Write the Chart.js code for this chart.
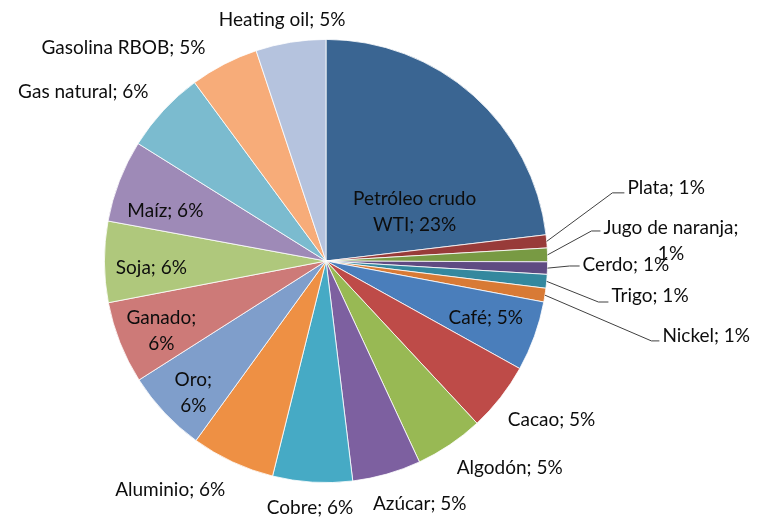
<!DOCTYPE html>
<html>
<head>
<meta charset="utf-8">
<script src="https://cdn.jsdelivr.net/npm/chart.js@4/dist/chart.umd.min.js"></script>
<style>
  html, body { margin: 0; padding: 0; background: #fff; }
  #wrap { width: 764px; height: 523px; }
</style>
</head>
<body>
<div id="wrap"><canvas id="tarta" width="764" height="523"></canvas></div>
<script>
// Datos (en orden horario desde arriba)
const categorias = ['Petróleo crudo WTI', 'Plata', 'Jugo de naranja', 'Cerdo', 'Trigo', 'Nickel',
  'Café', 'Cacao', 'Algodón', 'Azúcar', 'Cobre', 'Aluminio', 'Oro', 'Ganado', 'Soja', 'Maíz',
  'Gas natural', 'Gasolina RBOB', 'Heating oil'];
const valores = [23.1, 0.95, 1.0, 0.9, 1.0, 1.0, 5.1, 5.0, 5.0, 5.0, 5.8, 6.1, 6.0, 6.0, 5.9, 6.0, 6.0, 5.0, 5.1];

const colores = ['#3a6592', '#983b39', '#789a43', '#5f4b82', '#34889e', '#d87a35',
  '#4a7ebb', '#be4b48', '#98b954', '#7d60a0', '#46aac5', '#ee9044', '#7f9ecb', '#cd7a78',
  '#afc87c', '#9e8ab7', '#7bbbcf', '#f7ac79', '#b5c3de'];

// Posicion de cada etiqueta respecto al centro, en fracciones del radio
// br = palabras en la primera linea, guia = linea guia hacia el sector
const posEtiquetas = [
  { dx: 0.40, dy: -0.22, br: 2 },
  { dx: 1.36, dy: -0.33, guia: true, h: 12, oy: 5 },
  { dx: 1.252, dy: -0.149, guia: true, br: 3, h: 9, oy: 3 },
  { dx: 1.158, dy: 0.018, guia: true, h: 10, oy: 1 },
  { dx: 1.288, dy: 0.158, guia: true, h: 10, oy: 6 },
  { dx: 1.518, dy: 0.338, guia: true, h: 8, oy: 5 },
  { dx: 0.721, dy: 0.257 },
  { dx: 1.018, dy: 0.716 },
  { dx: 0.829, dy: 0.932 },
  { dx: 0.423, dy: 1.095 },
  { dx: -0.072, dy: 1.113 },
  { dx: -0.703, dy: 1.032 },
  { dx: -0.599, dy: 0.595, br: 1 },
  { dx: -0.743, dy: 0.315, br: 1 },
  { dx: -0.788, dy: 0.032 },
  { dx: -0.725, dy: -0.225 },
  { dx: -1.095, dy: -0.761 },
  { dx: -0.914, dy: -0.964 },
  { dx: -0.198, dy: -1.090 }
];

const total = valores.reduce((a, b) => a + b, 0);

// Plugin que dibuja las etiquetas "Nombre; x%"
const etiquetas = {
  id: 'etiquetas',
  afterDatasetsDraw(chart) {
    const ctx = chart.ctx;
    const meta = chart.getDatasetMeta(0);
    ctx.save();
    ctx.font = '19px Lato';
    ctx.fillStyle = '#0d0d0d';
    ctx.textBaseline = 'middle';
    meta.data.forEach((arc, i) => {
      const p = arc.getProps(['x', 'y', 'outerRadius', 'startAngle', 'endAngle'], true);
      const R = p.outerRadius;
      const tx = p.x + posEtiquetas[i].dx * R;
      const ty = p.y + posEtiquetas[i].dy * R;
      const pct = Math.round(valores[i] / total * 100);
      const texto = categorias[i] + '; ' + pct + '%';
      const palabras = texto.split(' ');
      const br = posEtiquetas[i].br;
      const lineas = br ? [palabras.slice(0, br).join(' '), palabras.slice(br).join(' ')] : [texto];
      const alto = 26;

      if (posEtiquetas[i].guia) {
        // linea guia desde el borde del sector
        const mid = (p.startAngle + p.endAngle) / 2;
        const ex = p.x + Math.cos(mid) * R;
        const ey = p.y + Math.sin(mid) * R;
        const ly = ty + posEtiquetas[i].oy;
        ctx.strokeStyle = '#404040';
        ctx.lineWidth = 1;
        ctx.beginPath();
        ctx.moveTo(ex, ey);
        ctx.lineTo(tx - 3 - posEtiquetas[i].h, ly);
        ctx.lineTo(tx - 3, ly);
        ctx.stroke();
        ctx.textAlign = 'left';
        ctx.fillText(lineas[0], tx, ty);
        if (lineas[1]) {
          const w = ctx.measureText(lineas[0]).width;
          ctx.textAlign = 'center';
          ctx.fillText(lineas[1], tx + w / 2, ty + alto);
        }
      } else {
        ctx.textAlign = 'center';
        const y0 = ty - (lineas.length - 1) * alto / 2;
        lineas.forEach((l, k) => ctx.fillText(l, tx, y0 + k * alto));
      }
    });
    ctx.restore();
  }
};

const lienzo = document.getElementById('tarta');
new Chart(lienzo, {
  type: 'pie',
  data: {
    labels: categorias,
    datasets: [{
      data: valores,
      backgroundColor: colores,
      borderColor: '#ffffff',
      borderWidth: 0.8
    }]
  },
  options: {
    responsive: false,
    animation: false,
    layout: { padding: { left: 104, right: 216, top: 39, bottom: 40 } },
    plugins: {
      legend: { display: false },
      tooltip: { enabled: false }
    }
  },
  plugins: [etiquetas]
});
</script>
</body>
</html>
